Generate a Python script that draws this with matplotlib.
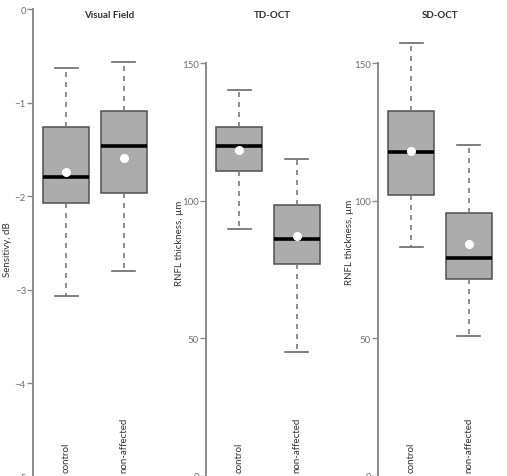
import matplotlib
matplotlib.use("Agg")
import matplotlib.pyplot as plt
from matplotlib.transforms import blended_transform_factory

plt.rcParams['font.family'] = ['Lato', 'DejaVu Sans']

# ---- data ----
groups = ['control', 'non-affected']
titles = ['Visual Field', 'TD-OCT', 'SD-OCT']
ylabels = ['Sensitivy, dB', 'RNFL thickness, µm', 'RNFL thickness, µm']

# per panel: [control, non-affected]
whislo = [[-3.07, -2.80], [89.6, 45.0], [83.1, 50.8]]
q1     = [[-2.07, -1.97], [110.8, 76.9], [102.0, 71.5]]
med    = [[-1.80, -1.46], [119.7, 86.0], [117.5, 79.0]]
q3     = [[-1.26, -1.09], [126.6, 98.4], [132.4, 95.5]]
whishi = [[-0.63, -0.57], [140.3, 115.1], [157.3, 120.2]]
means  = [[-1.74, -1.59], [118.4, 87.0], [118.0, 84.2]]

yticks = [[-5, -4, -3, -2, -1, 0], [0, 50, 100, 150], [0, 50, 100, 150]]
ylims = [(-5.10, 0.107), (-3.8, 173.3), (-3.8, 173.3)]

W, H = 507, 477
fig = plt.figure(figsize=(W / 100, H / 100), dpi=100)

lefts = [33, 206, 378]
title_x = [109, 272, 440]
ylab_pos = [(8, 250), (179, 243), (350, 242)]
grey = '#707070'

for i in range(3):
    ax = fig.add_axes([lefts[i] / W, -10 / H, 124 / W, 487 / H])
    stats = []
    for j in range(2):
        stats.append(dict(whislo=whislo[i][j], q1=q1[i][j], med=med[i][j],
                          q3=q3[i][j], whishi=whishi[i][j], mean=means[i][j],
                          fliers=[]))
    ax.bxp(stats, positions=[1, 2], widths=0.8, patch_artist=True,
           showmeans=True, showfliers=False,
           boxprops=dict(facecolor='#acacac', edgecolor='#505050', linewidth=1.1),
           medianprops=dict(color='black', linewidth=2.6),
           whiskerprops=dict(color='#7a7a7a', linestyle=(0, (3, 3)), linewidth=1.2),
           capprops=dict(color='#6a6a6a', linewidth=1.2),
           capwidths=0.4,
           meanprops=dict(marker='o', markerfacecolor='white',
                          markeredgecolor='white', markersize=5.5))
    ax.set_xlim(0.42, 2.58)
    ax.set_ylim(*ylims[i])
    ax.set_yticks(yticks[i])
    ax.set_xticks([])
    for s in ['top', 'right', 'bottom']:
        ax.spines[s].set_visible(False)
    ax.spines['left'].set_bounds(yticks[i][0], yticks[i][-1])
    ax.spines['left'].set_color('#8a8a8a')
    ax.spines['left'].set_linewidth(1.4)
    ax.tick_params(axis='y', length=4, width=1, color='#8a8a8a',
                   labelcolor=grey, labelsize=7, pad=1)
    ax.patch.set_visible(False)

    tr = blended_transform_factory(ax.transData, fig.transFigure)
    for j, g in enumerate(groups):
        ax.text(j + 1, 1 - 473 / H, g, transform=tr, rotation=90,
                ha='center', va='bottom', fontsize=7, color='#333333')

    fig.text(title_x[i] / W, 1 - 16 / H, titles[i], ha='center', va='center',
             fontsize=7, fontweight='bold', color='#333333')
    fig.text(ylab_pos[i][0] / W, 1 - ylab_pos[i][1] / H, ylabels[i],
             rotation=90, ha='center', va='center', fontsize=7, color='#333333')

fig.savefig('out.png', dpi=100, facecolor='white')
